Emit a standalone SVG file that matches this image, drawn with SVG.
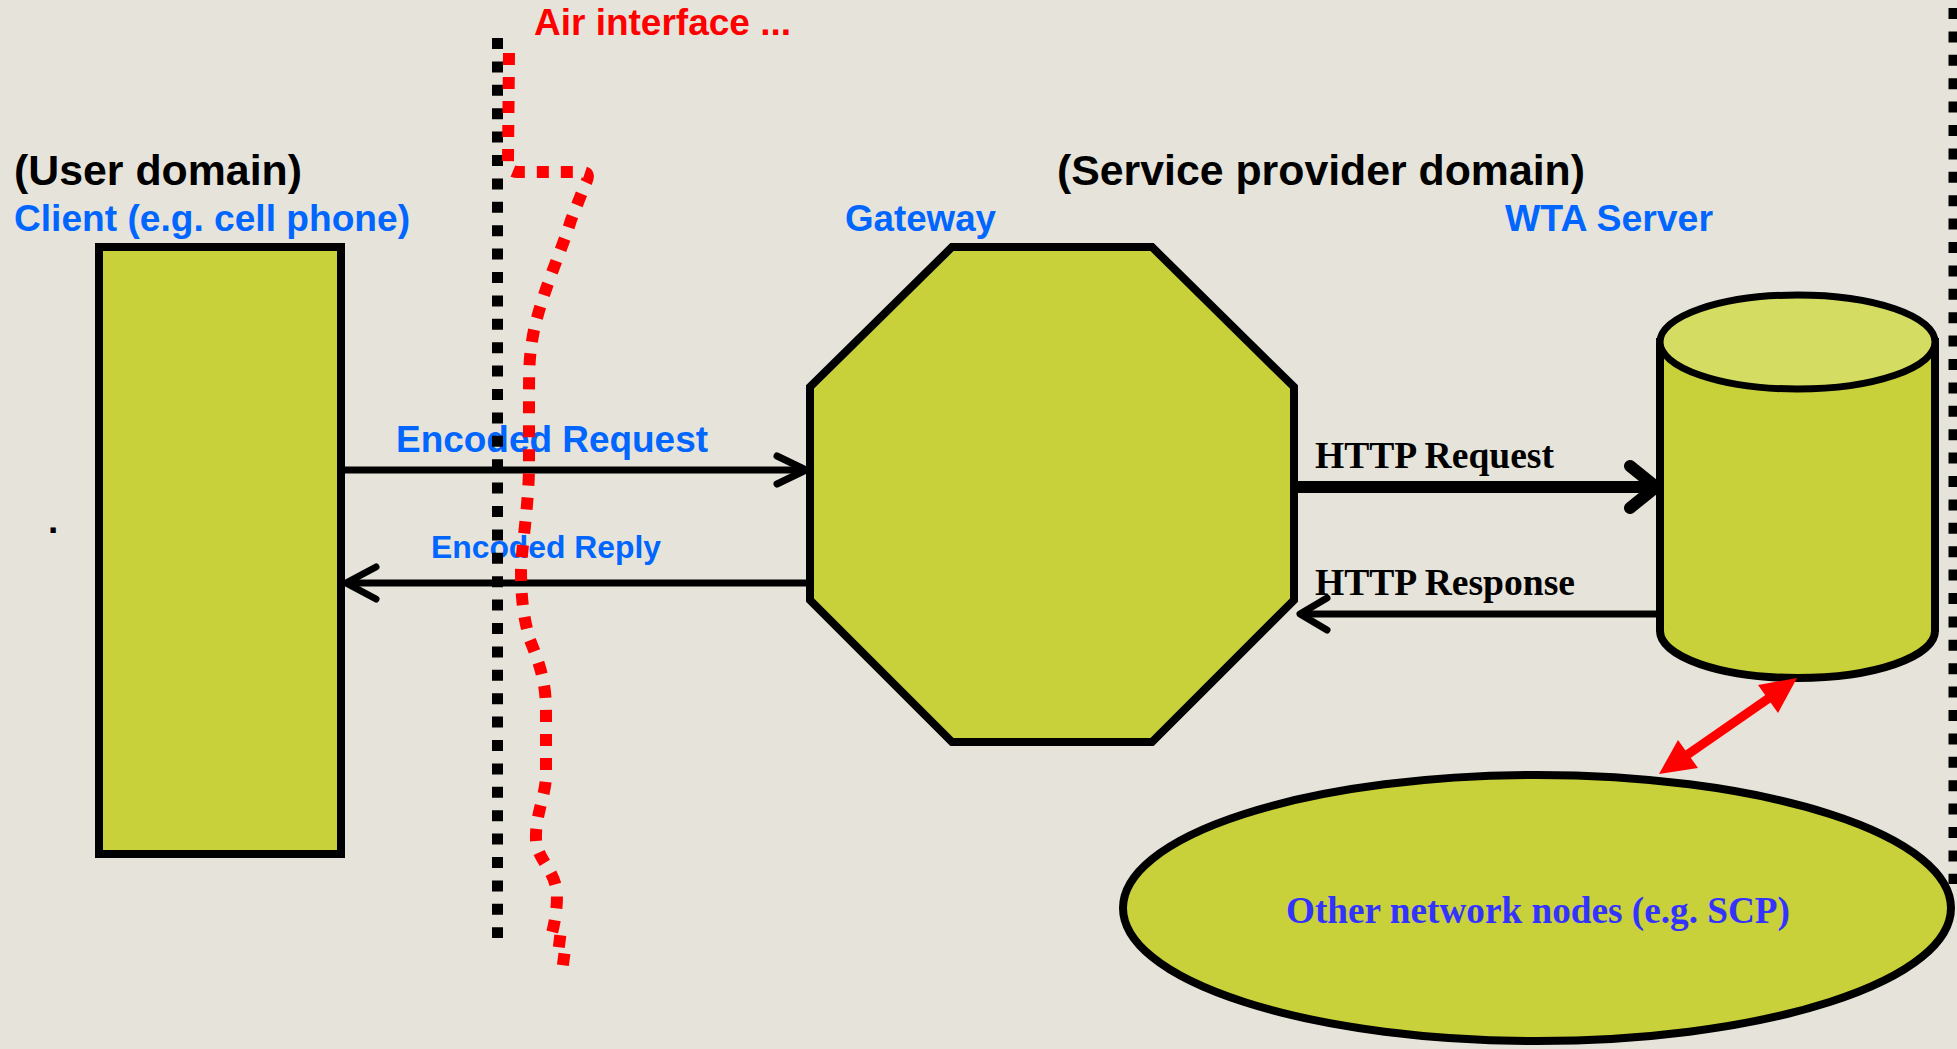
<svg xmlns="http://www.w3.org/2000/svg" width="1957" height="1049" viewBox="0 0 1957 1049">
<defs>
<style>
.bg{fill:#e6e4da}
.node{fill:#c8d03a;stroke:#000;stroke-width:8;stroke-linejoin:miter}
.top{fill:#d4dc62;stroke:#000;stroke-width:7}
.ln{fill:none;stroke:#000;stroke-linecap:round;stroke-linejoin:round}
.sans{font-family:"Liberation Sans",Arial,sans-serif;font-weight:bold}
.serif{font-family:"Liberation Serif","Times New Roman",serif;font-weight:bold}
.blue{fill:#0066ff}
.blk{fill:#000}
.red{fill:#ff0000}
</style>
</defs>
<rect class="bg" x="0" y="0" width="1957" height="1049"/>

<g id="labels">
<text class="sans blk" x="14" y="185" font-size="42" textLength="288" lengthAdjust="spacingAndGlyphs">(User domain)</text>
<text class="sans blue" x="14" y="231" font-size="37" textLength="396" lengthAdjust="spacingAndGlyphs">Client (e.g. cell phone)</text>
<text class="sans blk" x="1057" y="185" font-size="42" textLength="528" lengthAdjust="spacingAndGlyphs">(Service provider domain)</text>
<text class="sans blue" x="845" y="231" font-size="37" textLength="151" lengthAdjust="spacingAndGlyphs">Gateway</text>
<text class="sans blue" x="1505" y="231" font-size="37" textLength="208" lengthAdjust="spacingAndGlyphs">WTA Server</text>
<text class="sans red" x="534" y="35" font-size="37" textLength="257" lengthAdjust="spacingAndGlyphs">Air interface ...</text>
<text class="sans blk" x="48" y="533" font-size="37">.</text>
</g>

<g id="client">
<rect class="node" x="99" y="247" width="242" height="607"/>
</g>

<g id="gateway">
<polygon class="node" points="952,247 1152,247 1294,387 1294,600 1152,742 952,742 810,600 810,387"/>
</g>

<g id="wta-server">
<path class="node" stroke-width="7" d="M1660,342 L1660,631 A137.5,47 0 0 0 1935,631 L1935,342 Z"/>
<ellipse class="top" cx="1797.5" cy="342" rx="137.5" ry="47"/>
</g>

<g id="other-nodes">
<ellipse class="node" cx="1537" cy="908" rx="414" ry="133"/>
<text class="serif" x="1286" y="923" font-size="37" fill="#3333ff" textLength="504" lengthAdjust="spacingAndGlyphs">Other network nodes (e.g. SCP)</text>
</g>

<g id="connectors">
<line class="ln" x1="345" y1="470" x2="804" y2="470" stroke-width="7"/>
<polyline class="ln" points="777,456 806,470 777,484" stroke-width="7"/>
<text class="sans blue" x="396" y="452" font-size="36" textLength="312" lengthAdjust="spacingAndGlyphs">Encoded Request</text>

<line class="ln" x1="810" y1="583" x2="348" y2="583" stroke-width="7"/>
<polyline class="ln" points="376,567 346,583 376,599" stroke-width="7"/>
<text class="sans blue" x="431" y="558" font-size="31" textLength="230" lengthAdjust="spacingAndGlyphs">Encoded Reply</text>

<line x1="1294" y1="487" x2="1652" y2="487" stroke="#000" stroke-width="12"/>
<polyline class="ln" points="1630,466 1656,487 1630,508" stroke-width="12"/>
<text class="serif blk" x="1315" y="468" font-size="37" textLength="239" lengthAdjust="spacingAndGlyphs">HTTP Request</text>

<line x1="1660" y1="614" x2="1302" y2="614" stroke="#000" stroke-width="7"/>
<polyline class="ln" points="1327,598 1300,614 1327,630" stroke-width="7"/>
<text class="serif blk" x="1315" y="595" font-size="37" textLength="260" lengthAdjust="spacingAndGlyphs">HTTP Response</text>

<line x1="1684" y1="757" x2="1772" y2="696" stroke="#ff0000" stroke-width="9"/>
<polygon fill="#ff0000" points="1797,678 1758,685 1778,713"/>
<polygon fill="#ff0000" points="1659,774 1678,740 1698,768"/>

<line x1="497.5" y1="38" x2="497.5" y2="938" stroke="#000" stroke-width="11" stroke-dasharray="11 12.4"/>
<line x1="1954" y1="8" x2="1954" y2="884" stroke="#000" stroke-width="11" stroke-dasharray="11 12.4"/>
<path fill="none" stroke="#ff0000" stroke-width="12" stroke-dasharray="12 12" d="M509,53 L508,160 Q507,172 518,172 L582,172 Q592,172 585,185 L571,220 C562,250 543,290 534,330 C529,355 529,370 529,400 L529,470 C528,510 522,545 521,570 C521,600 524,620 530,640 C538,660 546,680 546,710 L546,775 C546,795 535,815 536,840 C537,860 556,870 557,895 C557,915 553,930 550,940 L566,942 L562,972"/>
</g>
</svg>
